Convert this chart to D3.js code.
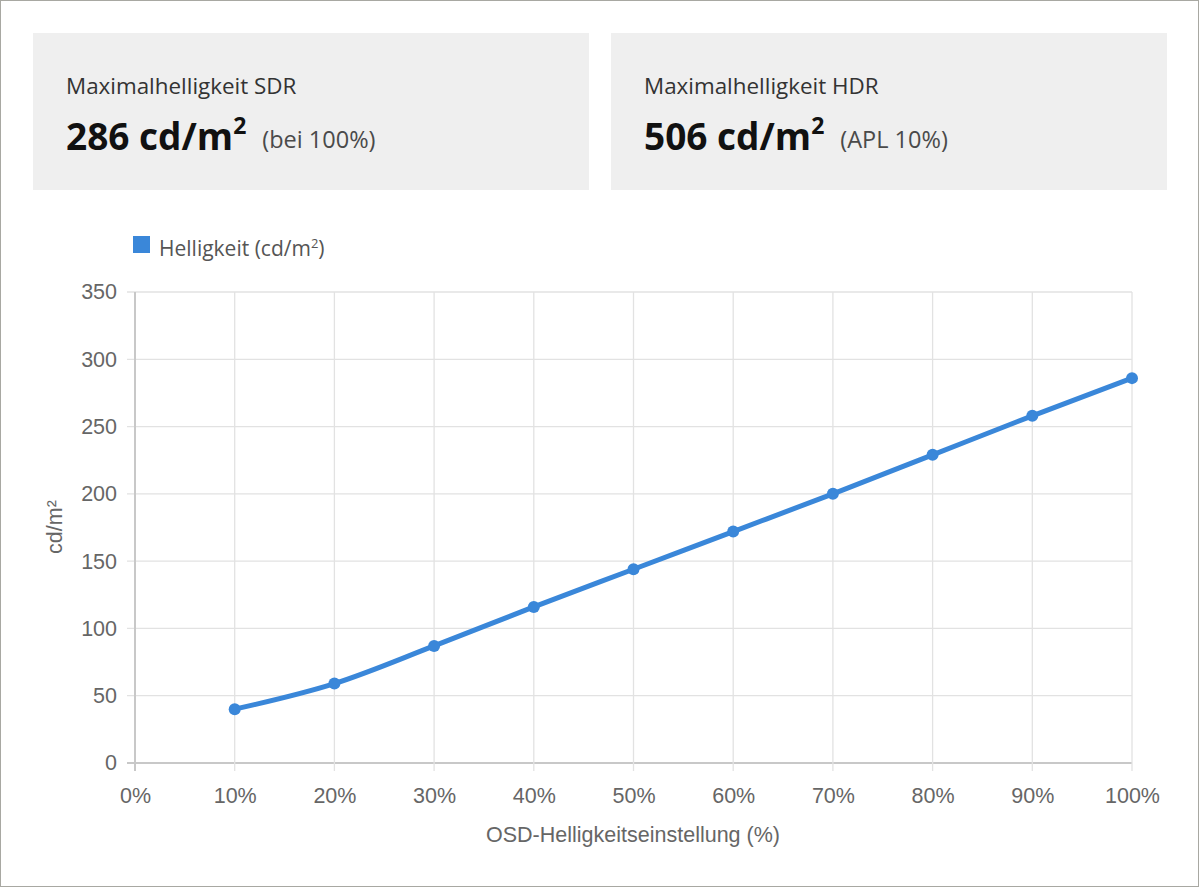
<!DOCTYPE html>
<html>
<head>
<meta charset="utf-8">
<script src="https://cdn.jsdelivr.net/npm/d3@7"></script>
<style>
  body { margin: 0; background: #fff; }
  svg { display: block; }
</style>
</head>
<body>
<svg id="chart"></svg>
<script>
'use strict'

// data
const settings = [10, 20, 30, 40, 50, 60, 70, 80, 90, 100]
const brightness = [40, 59, 87, 116, 144, 172, 200, 229, 258, 286]
const xTicks = [0, 10, 20, 30, 40, 50, 60, 70, 80, 90, 100]
const yTicks = [0, 50, 100, 150, 200, 250, 300, 350]
const cards = [
  { title: 'Maximalhelligkeit SDR', value: '286', unit: ' cd/m', note: '(bei 100%)' },
  { title: 'Maximalhelligkeit HDR', value: '506', unit: ' cd/m', note: '(APL 10%)' }
]

const W = 1200
const H = 889
const blue = '#3a87d9'
const cardFont = '"Open Sans", "Noto Sans", sans-serif'
const axisFont = '"Liberation Sans", Arial, sans-serif'
const axisSize = 21.5

const svg = d3.select('#chart').attr('width', W).attr('height', H)

// outer frame
svg.append('rect')
  .attr('x', 0.5).attr('y', 0.5)
  .attr('width', W - 2).attr('height', H - 3)
  .attr('fill', '#fff')
  .attr('stroke', '#a8a8a2')

// header cards
const card = svg.selectAll('.card')
  .data(cards)
  .enter()
  .append('g')
  .attr('class', 'card')
  .attr('transform', (d, i) => `translate(${33 + i * 578},33)`)

card.append('rect')
  .attr('width', 556).attr('height', 157)
  .attr('fill', '#efefef')

card.append('text')
  .attr('x', 33).attr('y', 61)
  .attr('font-family', cardFont)
  .attr('font-size', 22.4)
  .attr('fill', '#333')
  .text(d => d.title)

const big = card.append('text')
  .attr('x', 33).attr('y', 117)
  .attr('font-family', cardFont)
  .attr('fill', '#111')

big.append('tspan')
  .attr('font-size', 37)
  .attr('font-weight', 700)
  .text(d => d.value + d.unit)
big.append('tspan')
  .attr('font-size', 23)
  .attr('font-weight', 700)
  .attr('dy', -16)
  .text('2')
big.append('tspan')
  .attr('font-size', 23.5)
  .attr('fill', '#4a4a4a')
  .attr('dx', 16)
  .attr('dy', 14)
  .text(d => d.note)

// legend
svg.append('rect')
  .attr('x', 133).attr('y', 236)
  .attr('width', 17).attr('height', 17)
  .attr('fill', blue)

const leg = svg.append('text')
  .attr('x', 159).attr('y', 256)
  .attr('font-family', cardFont)
  .attr('font-size', 21)
  .attr('fill', '#555')
leg.append('tspan').text('Helligkeit (cd/m')
leg.append('tspan').attr('font-size', 13).attr('dy', -8).text('2')
leg.append('tspan').attr('dy', 8).text(')')

// scales
const x = d3.scaleLinear().domain([0, 100]).range([135, 1132])
const y = d3.scaleLinear().domain([0, 350]).range([763, 292])

// grid
const grid = svg.append('g')
grid.selectAll('.gy')
  .data(yTicks)
  .enter()
  .append('line')
  .attr('x1', 127).attr('x2', 1132)
  .attr('y1', d => y(d)).attr('y2', d => y(d))
  .attr('stroke', d => d === 0 ? '#c8c8c8' : '#e2e2e2')
  .attr('stroke-width', d => d === 0 ? 2 : 1.3)

grid.selectAll('.gx')
  .data(xTicks)
  .enter()
  .append('line')
  .attr('x1', d => x(d)).attr('x2', d => x(d))
  .attr('y1', 292).attr('y2', 771)
  .attr('stroke', d => d === 0 ? '#c8c8c8' : '#e2e2e2')
  .attr('stroke-width', d => d === 0 ? 2 : 1.3)

// axes (labels only, grid drawn above)
const yAxis = svg.append('g')
  .attr('transform', 'translate(117,0)')
  .call(d3.axisLeft(y).tickValues(yTicks).tickSize(0).tickPadding(0))
yAxis.select('.domain').remove()
yAxis.selectAll('text')
  .attr('font-family', axisFont)
  .attr('font-size', axisSize)
  .attr('fill', '#666')

const xAxis = svg.append('g')
  .attr('transform', 'translate(0,788)')
  .call(d3.axisBottom(x).tickValues(xTicks).tickSize(0).tickPadding(0).tickFormat(d => d + '%'))
xAxis.select('.domain').remove()
xAxis.selectAll('text')
  .attr('font-family', axisFont)
  .attr('font-size', axisSize)
  .attr('fill', '#666')

// axis titles
svg.append('text')
  .attr('x', 633).attr('y', 842)
  .attr('text-anchor', 'middle')
  .attr('font-family', axisFont)
  .attr('font-size', axisSize)
  .attr('fill', '#666')
  .text('OSD-Helligkeitseinstellung (%)')

svg.append('text')
  .attr('transform', 'translate(62,527) rotate(-90)')
  .attr('text-anchor', 'middle')
  .attr('font-family', axisFont)
  .attr('font-size', axisSize)
  .attr('fill', '#666')
  .text('cd/m²')

// line + points
const points = settings.map((s, i) => [s, brightness[i]])

const line = d3.line()
  .x(d => x(d[0]))
  .y(d => y(d[1]))
  .curve(d3.curveMonotoneX)

svg.append('path')
  .datum(points)
  .attr('d', line)
  .attr('fill', 'none')
  .attr('stroke', blue)
  .attr('stroke-width', 5)

svg.selectAll('.pt')
  .data(points)
  .enter()
  .append('circle')
  .attr('cx', d => x(d[0]))
  .attr('cy', d => y(d[1]))
  .attr('r', 6)
  .attr('fill', blue)
</script>
</body>
</html>
